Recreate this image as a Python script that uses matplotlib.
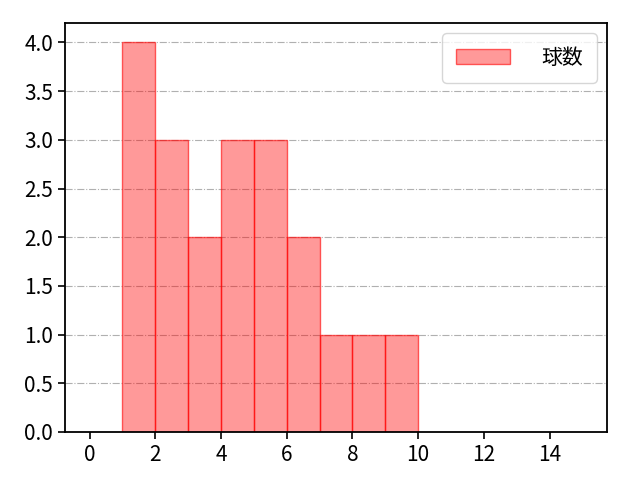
import matplotlib.pyplot as plt

plt.rcParams['font.family'] = ['Noto Sans CJK JP', 'DejaVu Sans']

# 球数の分布 (bin edges and counts)
bin_edges = [1, 2, 3, 4, 5, 6, 7, 8, 9, 10]
counts = [4, 3, 2, 3, 3, 2, 1, 1, 1]
label = '球数'

fig, ax = plt.subplots(figsize=(6.4, 4.8), dpi=100)
fig.subplots_adjust(left=65/640, right=607/640, top=1-23/480, bottom=1-432/480)
ax.hist(bin_edges[:-1], bins=bin_edges, weights=counts,
        facecolor=(1, 0, 0, 0.4), edgecolor=(1, 0, 0, 0.6), linewidth=1, label=label)
ax.set_xlim(-0.75, 15.75)
ax.set_ylim(0, 4.2)
ax.set_xticks(range(0, 16, 2))
ax.grid(axis='y', linestyle='-.', color='#b0b0b0')
ax.set_axisbelow(True)
ax.tick_params(labelsize=15, length=5, width=1.2)
for s in ax.spines.values():
    s.set_linewidth(1.3)
ax.legend(fontsize=15, handlelength=2.6, handletextpad=1.5, borderpad=0.65, loc='upper right')
plt.savefig('out.png')
